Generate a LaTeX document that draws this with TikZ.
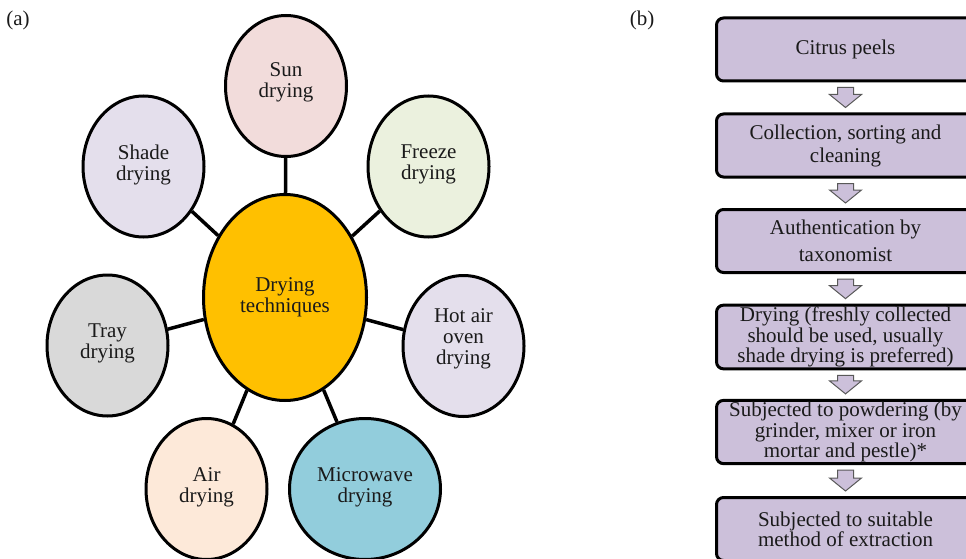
\documentclass[tikz,border=0pt]{standalone}
\usepackage{fontspec}
\setmainfont{Liberation Serif}
\usetikzlibrary{shapes.geometric,calc}
\definecolor{txt}{HTML}{1A1A1A}
\definecolor{sunc}{HTML}{F2DCDB}
\definecolor{lavc}{HTML}{E4DFEC}
\definecolor{frzc}{HTML}{EBF1DE}
\definecolor{orgc}{HTML}{FFC000}
\definecolor{trayc}{HTML}{D9D9D9}
\definecolor{airc}{HTML}{FDE9D9}
\definecolor{micc}{HTML}{92CDDC}
\definecolor{boxc}{HTML}{CCC0DA}
\definecolor{arrline}{HTML}{595959}
\newcommand\flowarrow[2]{%
  \draw[arr] ($(#1.south)+(-8,5)$) -- ($(#1.south)+(8,5)$) -- ($(#2.north)+(8,-18)$)
    -- ($(#2.north)+(16,-18)$) -- ($(#2.north)+(0,-5)$) -- ($(#2.north)+(-16,-18)$)
    -- ($(#2.north)+(-8,-18)$) -- cycle;}
\begin{document}
\begin{tikzpicture}[x=1pt,y=-1pt,
  bubble/.style={ellipse, draw=black, line width=3pt, inner sep=0pt, align=center,
    text=txt, font=\fontsize{21}{21}\selectfont, minimum width=121pt, minimum height=141pt},
  link/.style={draw=black, line width=3.5pt},
  stepbox/.style={draw=black, line width=3pt, rounded corners=7pt, fill=boxc,
    minimum width=258pt, minimum height=63pt, inner sep=2pt, align=center, text=txt},
  arr/.style={fill=boxc, draw=arrline, line width=1pt, line join=miter},
  lbl/.style={text=txt, font=\fontsize{21}{21}\selectfont, inner sep=0pt}]
\useasboundingbox (0,0) rectangle (966,559);
\clip (0,0) rectangle (966,559);
\fill[white] (0,0) rectangle (966,559);

\node[lbl] (la) at (18,20) {(a)};
\node[lbl] (lb) at (642,20) {(b)};

% (a) bubbles
\node[bubble, fill=orgc, minimum width=163pt, minimum height=206pt] (c) at (285,297.5) {Drying\\techniques};
\node[bubble, fill=sunc, text depth=11pt] (sun) at (286,86) {Sun\\drying};
\node[bubble, fill=lavc, text depth=8pt] (shade) at (143.5,166.5) {Shade\\drying};
\node[bubble, fill=frzc, text depth=8pt] (freeze) at (428.5,166.5) {Freeze\\drying};
\node[bubble, fill=trayc, text depth=8pt] (tray) at (107.5,345.5) {Tray\\drying};
\node[bubble, fill=lavc, text depth=19pt] (hot) at (463.5,346) {Hot air\\oven\\drying};
\node[bubble, fill=airc, text depth=7pt] (air) at (206.5,489) {Air\\drying};
\node[bubble, fill=micc, text depth=7pt, minimum width=151pt] (micro) at (365,489) {Microwave\\drying};

\foreach \n in {sun,shade,freeze,tray,hot,air,micro} \draw[link] (c) -- (\n);

% (b) flow chart
\node[stepbox, font=\fontsize{21}{21}\selectfont] (b1) at (845.5,49.5) {Citrus peels};
\node[stepbox, font=\fontsize{21}{23}\selectfont] (b2) at (845.5,145.5) {Collection, sorting and\\cleaning};
\node[stepbox, font=\fontsize{21}{27}\selectfont] (b3) at (845.5,241) {Authentication by\\taxonomist};
\node[stepbox, font=\fontsize{21}{18}\selectfont] (b4) at (845.5,337) {Drying (freshly collected\\should be used, usually\\shade drying is preferred)};
\node[stepbox, font=\fontsize{21}{18.5}\selectfont] (b5) at (845.5,432) {Subjected to powdering (by\\grinder, mixer or iron\\mortar and pestle)*};
\node[stepbox, font=\fontsize{21}{20}\selectfont] (b6) at (845.5,529) {Subjected to suitable\\method of extraction};

\flowarrow{b1}{b2}
\flowarrow{b2}{b3}
\flowarrow{b3}{b4}
\flowarrow{b4}{b5}
\flowarrow{b5}{b6}
\end{tikzpicture}
\end{document}
